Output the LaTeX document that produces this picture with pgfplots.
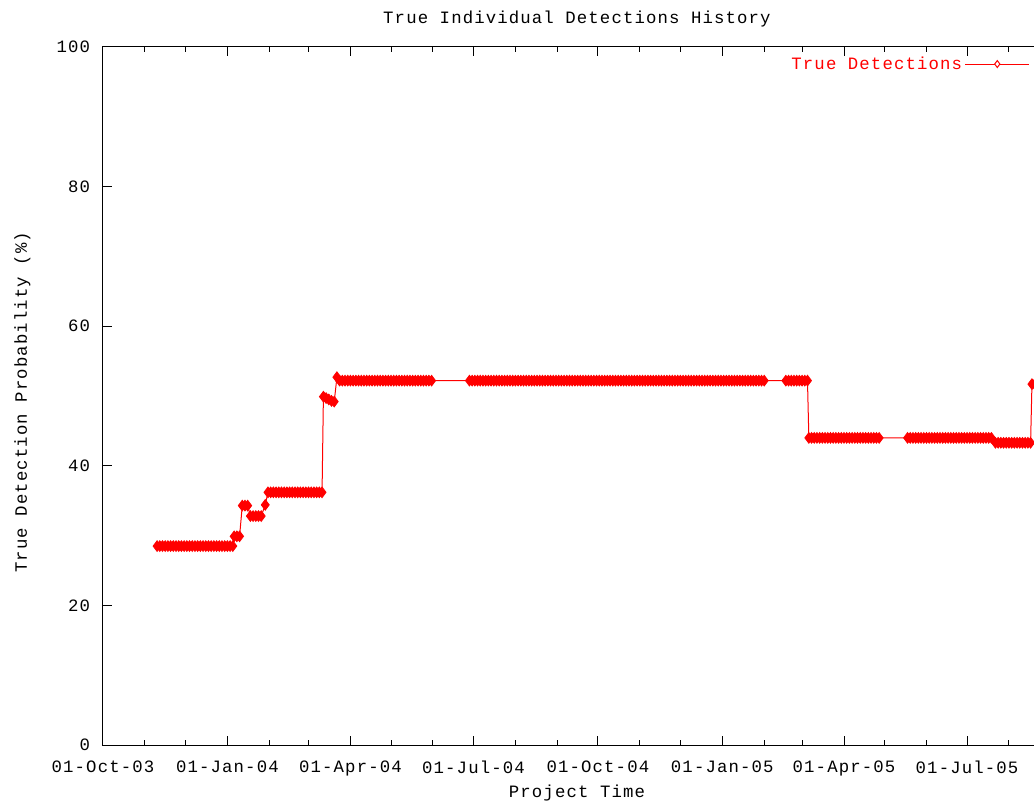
\documentclass[border=0pt]{standalone}
\usepackage{fontspec}
\setmainfont{Liberation Mono}[LetterSpace=6.5]
\usepackage{pgfplots}
\pgfplotsset{compat=1.18}
\begin{document}
\begin{tikzpicture}
\begin{axis}[
  scale only axis,
  width=699.75pt, height=523.5pt,
  xmin=0, xmax=690, ymin=0, ymax=100,
  axis line style={black, line width=0.75pt},
  every tick/.style={black, line width=0.75pt},
  tick align=inside,
  major tick length=6.75pt,
  minor tick length=3.4pt,
  ytick pos=left,
  xtick={0,92,183,274,366,458,548,639},
  xticklabels={01-Oct-03,01-Jan-04,01-Apr-04,01-Jul-04,01-Oct-04,01-Jan-05,01-Apr-05,01-Jul-05},
  minor xtick={31,61,123,152,213,244,305,336,397,427,489,517,578,609,670},
  ytick={0,20,40,60,80,100},
  yticklabels={0,20,40,60,80,100},
  /pgf/number format/assume math mode=true,
  tick label style={font=\fontsize{13}{13}\selectfont},
  xticklabel style={anchor=north, inner sep=0pt, yshift=-11.5pt},
  yticklabel style={anchor=east, inner sep=0pt, xshift=-9.5pt},
  label style={font=\fontsize{13}{13}\selectfont},
  every axis title shift=0pt,
  title style={font=\fontsize{13}{13}\selectfont, at={(axis description cs:0.508,1.033)}, anchor=base, inner sep=0pt},
  title={True Individual Detections History},
  xlabel={Project Time},
  xlabel style={at={(axis description cs:0.508,-0.0745)}, anchor=base, inner sep=0pt},
  ylabel={True Detection Probability (\%)},
  ylabel style={at={(axis description cs:-0.0815,0.491)}, anchor=base, inner sep=0pt},
  legend plot pos=right,
  legend style={draw=none, fill=none, text=red, font=\fontsize{13}{13}\selectfont,
    at={(axis description cs:0.9936,0.9756)}, anchor=east, inner sep=0pt,
    nodes={inner sep=2pt}},
  legend image code/.code={\draw[mark repeat=2,mark phase=2,#1,mark options={fill=white,mark size=2.6pt}] plot coordinates {(0pt,0pt)(24pt,0pt)(48pt,0pt)};},
  clip=true,
]
\addplot[red, line width=0.75pt, mark=diamond*, mark size=4pt, mark options={fill=red, line width=0.6pt}] coordinates {
(40,28.5)(42,28.5)(44,28.5)(46,28.5)(48,28.5)(50,28.5)(52,28.5)(54,28.5)(56,28.5)(58,28.5)
(60,28.5)(62,28.5)(64,28.5)(66,28.5)(68,28.5)(70,28.5)(72,28.5)(74,28.5)(76,28.5)(78,28.5)
(80,28.5)(82,28.5)(84,28.5)(86,28.5)(88,28.5)(90,28.5)(92,28.5)(94,28.5)(96,28.5)
(97,29.9)(99,29.9)(101,29.9)
(103,34.3)(105,34.3)(107,34.3)
(109,32.8)(111,32.8)(113,32.8)(115,32.8)(117,32.8)
(120,34.4)
(122,36.2)(124,36.2)(126,36.2)(128,36.2)(130,36.2)(132,36.2)(134,36.2)(136,36.2)(138,36.2)(140,36.2)
(142,36.2)(144,36.2)(146,36.2)(148,36.2)(150,36.2)(152,36.2)(154,36.2)(156,36.2)(158,36.2)(160,36.2)(162,36.2)
(163,49.9)(165,49.7)(167,49.5)(169,49.3)(171,49.2)
(173,52.7)
(175,52.2)(177,52.2)(179,52.2)(181,52.2)(183,52.2)(185,52.2)(187,52.2)(189,52.2)(191,52.2)(193,52.2)
(195,52.2)(197,52.2)(199,52.2)(201,52.2)(203,52.2)(205,52.2)(207,52.2)(209,52.2)(211,52.2)(213,52.2)
(215,52.2)(217,52.2)(219,52.2)(221,52.2)(223,52.2)(225,52.2)(227,52.2)(229,52.2)(231,52.2)(233,52.2)
(235,52.2)(237,52.2)(239,52.2)(241,52.2)(243,52.2)
(271,52.2)(273,52.2)(275,52.2)(277,52.2)(279,52.2)(281,52.2)(283,52.2)(285,52.2)(287,52.2)(289,52.2)
(291,52.2)(293,52.2)(295,52.2)(297,52.2)(299,52.2)(301,52.2)(303,52.2)(305,52.2)(307,52.2)(309,52.2)
(311,52.2)(313,52.2)(315,52.2)(317,52.2)(319,52.2)(321,52.2)(323,52.2)(325,52.2)(327,52.2)(329,52.2)
(331,52.2)(333,52.2)(335,52.2)(337,52.2)(339,52.2)(341,52.2)(343,52.2)(345,52.2)(347,52.2)(349,52.2)
(351,52.2)(353,52.2)(355,52.2)(357,52.2)(359,52.2)(361,52.2)(363,52.2)(365,52.2)(367,52.2)(369,52.2)
(371,52.2)(373,52.2)(375,52.2)(377,52.2)(379,52.2)(381,52.2)(383,52.2)(385,52.2)(387,52.2)(389,52.2)
(391,52.2)(393,52.2)(395,52.2)(397,52.2)(399,52.2)(401,52.2)(403,52.2)(405,52.2)(407,52.2)(409,52.2)
(411,52.2)(413,52.2)(415,52.2)(417,52.2)(419,52.2)(421,52.2)(423,52.2)(425,52.2)(427,52.2)(429,52.2)
(431,52.2)(433,52.2)(435,52.2)(437,52.2)(439,52.2)(441,52.2)(443,52.2)(445,52.2)(447,52.2)(449,52.2)
(451,52.2)(453,52.2)(455,52.2)(457,52.2)(459,52.2)(461,52.2)(463,52.2)(465,52.2)(467,52.2)(469,52.2)
(471,52.2)(473,52.2)(475,52.2)(477,52.2)(479,52.2)(481,52.2)(483,52.2)(485,52.2)(487,52.2)(489,52.2)
(505,52.2)(507,52.2)(509,52.2)(511,52.2)(513,52.2)(515,52.2)(517,52.2)(519,52.2)(521,52.2)
(522,44.0)(524,44.0)(526,44.0)(528,44.0)(530,44.0)(532,44.0)(534,44.0)(536,44.0)(538,44.0)(540,44.0)
(542,44.0)(544,44.0)(546,44.0)(548,44.0)(550,44.0)(552,44.0)(554,44.0)(556,44.0)(558,44.0)(560,44.0)
(562,44.0)(564,44.0)(566,44.0)(568,44.0)(570,44.0)(572,44.0)(574,44.0)
(595,44.0)(597,44.0)(599,44.0)(601,44.0)(603,44.0)(605,44.0)(607,44.0)(609,44.0)(611,44.0)(613,44.0)
(615,44.0)(617,44.0)(619,44.0)(621,44.0)(623,44.0)(625,44.0)(627,44.0)(629,44.0)(631,44.0)(633,44.0)
(635,44.0)(637,44.0)(639,44.0)(641,44.0)(643,44.0)(645,44.0)(647,44.0)(649,44.0)(651,44.0)(653,44.0)
(655,44.0)(657,44.0)
(660,43.3)(662,43.3)(664,43.3)(666,43.3)(668,43.3)(670,43.3)(672,43.3)(674,43.3)(676,43.3)(678,43.3)
(680,43.3)(682,43.3)(684,43.3)(686,43.3)
(687,51.7)(689,51.7)
};
\addlegendentry{True Detections}
\end{axis}
\pgfresetboundingbox
\path (-77.25pt,-42pt) rectangle (698.25pt,558.75pt);
\end{tikzpicture}
\end{document}
